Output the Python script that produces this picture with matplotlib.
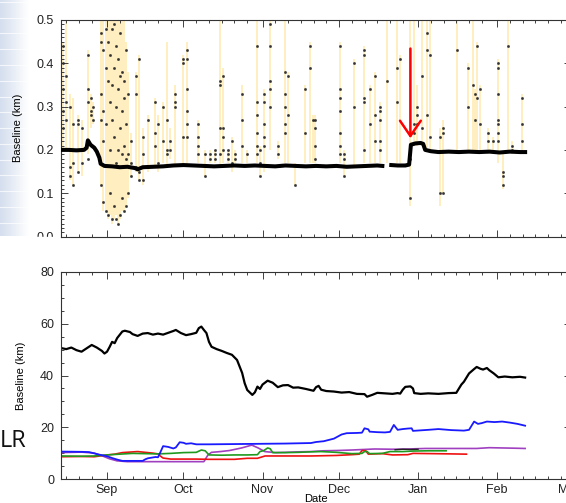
import numpy as np
import pandas as pd
import matplotlib
matplotlib.use("Agg")
import matplotlib.pyplot as plt
import matplotlib.dates as mdates
from matplotlib.patches import Rectangle

plt.rcParams["font.family"] = ["Liberation Sans", "DejaVu Sans"]

# all days are counted from 1 Sep
base = pd.Timestamp("2010-09-01")
x_lo, x_hi = -18.05, 181.8

# ---- top panel: short baseline (km) ----
band_day = [-18, -15, -12, -9, -8, -7.5, -6.5, -5, -4, -3, -2.5, -1, 2, 5, 8, 11, 12, 14,
            18, 22, 26, 30, 34, 38, 42, 46, 50, 54, 58, 62, 66, 70, 74, 78, 82, 86, 90,
            94, 98, 102, 106, 108, 109, 111.5, 114, 117, 118.5, 119.2, 121, 123, 124,
            124.8, 127, 130, 134, 138, 142, 146, 150, 154, 158, 162, 164]
band_val = [0.200, 0.200, 0.199, 0.200, 0.205, 0.222, 0.212, 0.205, 0.196, 0.182, 0.168,
            0.163, 0.162, 0.160, 0.161, 0.158, 0.155, 0.160, 0.161, 0.162, 0.164, 0.165,
            0.164, 0.163, 0.162, 0.163, 0.164, 0.163, 0.164, 0.163, 0.162, 0.164, 0.163,
            0.162, 0.163, 0.162, 0.163, 0.161, 0.162, 0.163, 0.164, 0.163, np.nan, 0.165,
            0.164, 0.164, 0.166, 0.212, 0.215, 0.216, 0.214, 0.200, 0.197, 0.195, 0.196,
            0.195, 0.196, 0.195, 0.196, 0.194, 0.196, 0.195, 0.195]

bar_day = [-17.3, -16.1, -14.5, -13.3, -11.4, -9.8, -7.5, -6.3, -5.5, -2.4, -1.6, -0.4,
           0.4, 1.2, 2.0, 2.7, 3.5, 4.3, 5.1, 5.9, 6.7, 7.5, 8.2, 9.4, 11.4, 12.6, 14.1,
           16.1, 18.8, 20.0, 22.0, 23.5, 24.7, 26.7, 29.8,
           31.4, 35.7, 38.4, 40.4, 42.4, 44.3, 45.5, 47.5, 49.0, 50.2, 53.0, 54.9, 58.8,
           60.0, 61.6, 63.9, 67.1, 69.8, 71.0, 73.8, 77.7, 79.6, 80.8,
           81.6, 91.4, 93.0, 96.9, 100.8, 103.2, 105.1, 107.1, 109.8, 113.8, 114.9,
           118.9, 120.4, 121.6, 123.6, 125.5, 126.7, 130.6,
           131.8, 137.3, 141.6, 143.6, 144.4, 145.2, 146.3, 149.5, 151.3, 153.4, 155.4,
           157.3, 158.9, 162.8]
bar_lo = [0.20, 0.20, 0.13, 0.12, 0.15, 0.14, 0.19, 0.25, 0.26, 0.12, 0.06, 0.06,
          0.04, 0.05, 0.03, 0.04, 0.05, 0.03, 0.04, 0.06, 0.06, 0.07, 0.09, 0.14, 0.15,
          0.13, 0.12, 0.15, 0.16, 0.15, 0.17, 0.16, 0.18, 0.16, 0.16,
          0.16, 0.17, 0.14, 0.17, 0.17, 0.16, 0.17, 0.17, 0.15, 0.17, 0.17, 0.17, 0.17,
          0.14, 0.15, 0.20, 0.18, 0.17, 0.17, 0.12, 0.17, 0.17, 0.17,
          0.17, 0.17, 0.14, 0.16, 0.17, 0.17, 0.17, 0.17, 0.17, 0.17, 0.17,
          0.07, 0.21, 0.21, 0.22, 0.20, 0.20, 0.07,
          0.10, 0.20, 0.20, 0.20, 0.20, 0.20, 0.20, 0.19, 0.19, 0.17, 0.11,
          0.20, 0.19, 0.20]
bar_hi = [0.45, 0.50, 0.33, 0.32, 0.28, 0.27, 0.43, 0.33, 0.31, 0.50, 0.50, 0.50,
          0.50, 0.50, 0.50, 0.50, 0.50, 0.50, 0.50, 0.50, 0.50, 0.45, 0.38, 0.24, 0.38,
          0.42, 0.25, 0.28, 0.32, 0.28, 0.31, 0.45, 0.25, 0.35, 0.42,
          0.45, 0.27, 0.20, 0.20, 0.20, 0.50, 0.39, 0.20, 0.23, 0.20, 0.35, 0.20, 0.50,
          0.21, 0.34, 0.50, 0.22, 0.50, 0.38, 0.17, 0.35, 0.45, 0.28,
          0.28, 0.45, 0.20, 0.41, 0.44, 0.35, 0.38, 0.31, 0.50, 0.50, 0.42,
          0.50, 0.50, 0.35, 0.50, 0.50, 0.50, 0.25,
          0.27, 0.50, 0.40, 0.50, 0.34, 0.45, 0.35, 0.25, 0.23, 0.41, 0.19,
          0.50, 0.22, 0.33]
bar_pts = [[0.44, 0.40, 0.34, 0.29, 0.25], [0.37, 0.31, 0.27], [0.30, 0.16, 0.14],
           [0.26, 0.17, 0.12], [0.27, 0.26, 0.15], [0.25, 0.17], [0.42, 0.34, 0.31, 0.18],
           [0.32, 0.29, 0.28], [0.27, 0.30], [0.47, 0.45, 0.33, 0.27, 0.12],
           [0.43, 0.29, 0.22, 0.08], [0.48, 0.39, 0.06, 0.26], [0.36, 0.45, 0.05],
           [0.31, 0.42, 0.20, 0.10], [0.48, 0.35, 0.04, 0.27], [0.39, 0.23, 0.07, 0.49],
           [0.30, 0.44, 0.17, 0.04], [0.41, 0.20, 0.03, 0.34], [0.47, 0.25, 0.05, 0.37],
           [0.38, 0.29, 0.09, 0.19], [0.36, 0.32, 0.06, 0.21], [0.43, 0.26, 0.07, 0.18],
           [0.33, 0.19, 0.10], [0.22, 0.17, 0.14], [0.37, 0.33, 0.16], [0.41, 0.15, 0.13],
           [0.23, 0.19, 0.13], [0.27, 0.16], [0.31, 0.24, 0.21], [0.26, 0.17],
           [0.30, 0.22], [0.27, 0.20, 0.19], [0.22, 0.20], [0.33, 0.30, 0.31],
           [0.41, 0.40, 0.23],
           [0.43, 0.41, 0.34, 0.29, 0.26, 0.23], [0.26, 0.23, 0.21, 0.19], [0.19, 0.14],
           [0.19, 0.18], [0.20, 0.19, 0.18], [0.36, 0.35, 0.25, 0.19],
           [0.37, 0.25, 0.23, 0.20], [0.20, 0.19, 0.18], [0.22, 0.17], [0.19, 0.18],
           [0.33, 0.27, 0.21], [0.19], [0.44, 0.31, 0.28, 0.24, 0.21, 0.19],
           [0.20, 0.17, 0.14], [0.33, 0.31, 0.26, 0.23, 0.21], [0.49, 0.44, 0.36, 0.34, 0.30],
           [0.21, 0.19], [0.38, 0.33, 0.30, 0.26, 0.24], [0.37, 0.28], [0.12],
           [0.34, 0.24], [0.44, 0.39], [0.27],
           [0.27, 0.25, 0.21, 0.18], [0.44, 0.34, 0.32, 0.29, 0.24, 0.21, 0.19],
           [0.19, 0.18, 0.14], [0.40, 0.30], [0.43, 0.42, 0.32, 0.31, 0.20], [0.34, 0.26],
           [0.37, 0.28, 0.22], [0.30, 0.29, 0.27, 0.22, 0.20], [0.36], [0.39, 0.31], [0.41],
           [0.09, 0.18], [0.26, 0.24], [0.30, 0.28, 0.26], [0.37, 0.25], [0.47, 0.43, 0.28],
           [0.42, 0.23], [0.10, 0.23],
           [0.25, 0.24, 0.10], [0.43], [0.39, 0.30], [0.35], [0.33, 0.27], [0.44, 0.32],
           [0.34, 0.26], [0.24, 0.22], [0.22], [0.40, 0.39, 0.33, 0.27, 0.26, 0.24, 0.22],
           [0.15, 0.14, 0.12], [0.44], [0.21, 0.20], [0.32, 0.26, 0.22]]

arrow_day, arrow_top, arrow_tip = 119.0, 0.434, 0.227

# ---- bottom panel: long baselines (km) ----
blk_day = [-18, -16, -14, -12, -10, -8, -6, -4, -2, -1, 0, 1, 2, 3, 4, 6, 7, 9, 10, 12,
           14, 16, 18, 20, 22, 24, 26, 27, 29, 31, 33, 35, 36, 37, 38, 39, 40, 41, 43, 45,
           47, 49, 51, 53, 54, 55, 57, 58, 59, 60, 61, 63, 65, 67, 69, 71, 73, 75, 78, 81,
           82, 83, 84, 86, 89, 92, 95, 98, 101, 102, 104, 106, 109, 112, 114, 115, 116,
           117, 119, 120, 120.5, 123, 126, 130, 134, 137, 139, 140, 142, 144, 145, 146.5,
           147.5, 149, 150, 151.7, 153.5, 156, 159, 162, 164]
blk_val = [50.6, 50.2, 50.8, 49.8, 49.2, 50.5, 51.8, 50.8, 49.5, 48.5, 49.2, 51.0, 53.0,
           52.5, 54.5, 57.0, 57.3, 56.8, 56.0, 55.3, 56.2, 56.4, 55.8, 56.2, 55.8, 56.5,
           57.2, 57.6, 56.4, 55.6, 56.0, 56.5, 58.3, 58.9, 57.6, 56.4, 53.0, 51.1, 50.2,
           49.5, 48.7, 48.0, 46.0, 41.0, 37.0, 34.4, 32.5, 33.5, 35.7, 34.8, 36.5, 38.0,
           37.2, 35.5, 36.2, 36.3, 35.3, 35.4, 34.8, 34.1, 35.5, 36.0, 34.5, 34.0, 33.8,
           33.4, 33.6, 32.9, 32.8, 31.8, 32.5, 33.3, 33.1, 32.9, 33.2, 33.0, 34.5, 35.6,
           35.8, 35.0, 33.2, 32.9, 33.1, 32.9, 33.2, 33.3, 36.5, 37.6, 40.8, 42.5, 43.3,
           42.6, 42.3, 42.9, 42.0, 40.8, 39.3, 39.6, 39.3, 39.5, 39.2]

blu_day = [-18, -10, -7, -3, 0, 2, 4, 6, 10, 14, 15, 16, 19, 20, 21, 22, 24, 26, 27, 28.5,
           30, 31, 33, 35, 40, 50, 60, 70, 80, 82, 85, 87, 89, 92, 94, 98, 100, 101, 102.5,
           103, 106, 109, 111, 112.5, 114, 116, 118, 119.5, 120, 126, 130, 135, 140, 142,
           144, 145.5, 147, 149, 152, 155, 158, 161, 164]
blu_val = [10.6, 10.5, 10.4, 9.4, 8.8, 8.1, 7.5, 7.0, 7.0, 7.0, 7.6, 8.0, 8.5, 8.4, 10.5,
           12.7, 12.4, 11.8, 12.2, 14.2, 14.0, 13.6, 13.8, 13.4, 13.4, 13.5, 13.6, 13.7,
           13.9, 14.3, 14.6, 15.1, 15.6, 17.2, 17.7, 17.8, 17.9, 19.6, 19.2, 18.3, 18.1,
           18.0, 18.2, 20.9, 19.0, 19.3, 19.5, 19.6, 18.6, 19.0, 19.3, 18.9, 18.7, 19.0,
           22.2, 21.3, 21.6, 22.2, 22.0, 22.2, 21.8, 21.3, 20.6]

grn_day = [-18, -10, -5, 0, 5, 10, 15, 20, 25, 30, 35, 37, 38.5, 40, 45, 50, 55, 59, 60,
           61.5, 63, 64, 65, 70, 75, 80, 84, 90, 96, 100, 101, 102, 103, 108, 111, 116,
           120, 126, 130, 133]
grn_val = [8.9, 8.8, 8.9, 9.3, 9.6, 9.9, 9.8, 9.7, 9.9, 10.2, 10.3, 11.2, 10.9, 9.3, 9.2,
           9.3, 9.3, 9.4, 10.6, 11.0, 12.0, 11.7, 10.2, 10.2, 10.3, 10.5, 10.6, 10.3, 9.8,
           9.9, 10.6, 10.6, 9.8, 9.9, 10.6, 10.6, 10.8, 10.9, 10.9, 10.9]

red_day = [-18, -10, -5, 0, 3, 6, 9, 12, 15, 18, 20, 21, 22, 25, 30, 35, 40, 45, 50, 55,
           59, 62, 70, 80, 90, 96, 99, 100, 101.5, 102.5, 108, 112, 118, 120, 128, 135, 141]
red_val = [8.6, 8.7, 8.6, 9.3, 9.6, 10.2, 10.4, 10.6, 10.3, 10.0, 9.7, 8.8, 8.1, 7.7, 7.7,
           7.7, 7.6, 7.6, 7.6, 8.0, 8.0, 8.9, 8.9, 8.9, 9.1, 9.4, 9.6, 11.0, 10.9, 9.6, 9.8,
           9.3, 9.4, 9.9, 9.8, 9.7, 9.6]

pur_day = [-18, -10, -5, -2, 1, 4, 8, 20, 30, 38, 39.6, 41, 44.5, 48, 52.8, 56.8, 59.3,
           61.9, 66, 70, 75, 80, 85, 90, 96, 105, 112, 118, 125, 135, 145, 150, 155, 160, 164]
pur_val = [10.2, 10.4, 10.0, 9.0, 7.8, 7.0, 6.7, 6.7, 6.7, 6.7, 9.3, 10.3, 10.6, 11.0, 12.0,
           13.1, 12.0, 10.6, 10.2, 10.3, 10.5, 10.6, 10.9, 11.0, 11.2, 11.6, 11.5, 11.6,
           11.8, 11.8, 11.8, 12.1, 12.0, 11.9, 11.8]

gry_day = [113, 116, 119, 122]
gry_val = [11.3, 11.5, 11.4, 11.5]


def to_date(days):
    return base + pd.to_timedelta(np.asarray(days, dtype=float), unit="D")


fig = plt.figure(figsize=(5.66, 5.03), dpi=100)

# bluish slide background strip on the left
bg = fig.add_axes([0, 0.53, 0.05, 0.47])
grad = np.linspace(0, 1, 40)[None, :].repeat(60, axis=0)
bg.imshow(grad, cmap=matplotlib.colors.LinearSegmentedColormap.from_list(
    "bg", ["#d4deee", "#ffffff"]), aspect="auto")
for k in range(0, 60, 4):
    bg.axhline(k, color="white", lw=0.8, alpha=0.7)
bg.set_axis_off()

xmin, xmax = to_date([x_lo])[0], to_date([x_hi])[0]


def style(ax):
    ax.set_xlim(xmin, xmax)
    ax.xaxis.set_major_locator(mdates.MonthLocator())
    ax.xaxis.set_minor_locator(mdates.DayLocator(bymonthday=[6, 11, 16, 21, 26]))
    ax.tick_params(which="both", direction="in", top=True, right=True, width=0.6,
                   labelsize=9, pad=3.5, colors="#222")
    ax.tick_params(which="major", length=5)
    ax.tick_params(which="minor", length=2.5)
    for s in ax.spines.values():
        s.set_linewidth(0.8)
        s.set_color("#333")


ax1 = fig.add_axes([61 / 566, 1 - 236.5 / 503, 509.5 / 566, 216.5 / 503])
for d, lo, hi in zip(bar_day, bar_lo, bar_hi):
    ax1.vlines(to_date([d]), lo, min(hi, 0.52), color="#ffe08a", alpha=0.65, lw=1.2,
               zorder=1)
pd_x, pd_y = [], []
for d, pts in zip(bar_day, bar_pts):
    for v in pts:
        pd_x.append(d)
        pd_y.append(v)
ax1.plot(to_date(pd_x), pd_y, "o", ms=1.6, color="#333", mec="#111", mew=0.3, zorder=3)
ax1.plot(to_date(band_day), band_val, "-", color="black", lw=2.9, zorder=4)
ax1.annotate("", xy=(to_date([arrow_day])[0], arrow_tip),
             xytext=(to_date([arrow_day])[0], arrow_top),
             arrowprops=dict(arrowstyle="->,head_length=1.1,head_width=0.75",
                             color="red", lw=1.8, shrinkA=0, shrinkB=0), zorder=6)
ax1.set_ylim(0, 0.5)
ax1.set_yticks(np.arange(0, 0.51, 0.1))
ax1.set_yticks(np.arange(0, 0.501, 0.01), minor=True)
ax1.set_yticklabels(["%.1f" % v for v in np.arange(0, 0.51, 0.1)])
style(ax1)
ax1.tick_params(axis="y", pad=5)
ax1.set_xticklabels([])
ax1.set_ylabel("Baseline (km)", fontsize=8, labelpad=10)

ax2 = fig.add_axes([61 / 566, 1 - 479 / 503, 509.5 / 566, 207 / 503])
ax2.plot(to_date(pur_day), pur_val, color="#a040c0", lw=1.2)
ax2.plot(to_date(red_day), red_val, color="#ee1111", lw=1.2)
ax2.plot(to_date(grn_day), grn_val, color="#1f9a1f", lw=1.2)
ax2.plot(to_date(gry_day), gry_val, color="#222", lw=1.0)
ax2.plot(to_date(blu_day), blu_val, color="#1a1aff", lw=1.3)
ax2.plot(to_date(blk_day), blk_val, color="black", lw=1.6)
ax2.set_ylim(0, 80)
ax2.set_yticks(np.arange(0, 81, 20))
ax2.set_yticks(np.arange(0, 81, 5), minor=True)
style(ax2)
ax2.tick_params(axis="y", pad=5)
ax2.xaxis.set_major_formatter(mdates.DateFormatter("%b"))
ax2.set_ylabel("Baseline (km)", fontsize=8, labelpad=10)
ax2.set_xlabel("Date", fontsize=8, labelpad=-1.5)

# white strip that hides the lower half of the "0.0" label
fig.patches.append(Rectangle((0, 1 - 262 / 503), 59 / 566, 25 / 503,
                             transform=fig.transFigure, color="white", zorder=10))

fig.text(26 / 566, 1 - 447 / 503, "LR", fontsize=17, ha="right", va="baseline",
         family=["Open Sans", "DejaVu Sans"], color="#111")

fig.savefig("out.png", dpi=100)
